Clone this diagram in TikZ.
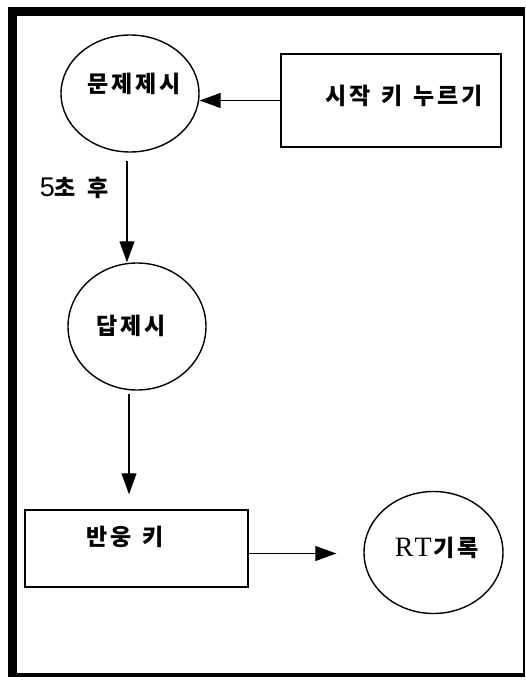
\documentclass[tikz,border=0pt]{standalone}
\usepackage{fontspec}
\setmainfont{Liberation Serif}
\newfontfamily\kr{Noto Sans CJK KR}
\newfontfamily\latsans{Liberation Sans}
\newcommand\kk{\kern3pt}
\newcommand\ksp{\kern11pt}
\usetikzlibrary{arrows.meta,shapes.geometric}
\begin{document}
\begin{tikzpicture}[x=1pt,y=-1pt,
  oval/.style={draw, line width=1.4pt, ellipse, inner sep=0pt},
  boxnode/.style={draw, line width=1.4pt, rectangle, inner sep=0pt},
  lbl/.style={inner sep=0pt, font=\kr\bfseries\fontsize{23}{25}\selectfont},
  arr/.style={line width=1.1pt, -{Triangle[length=21pt,width=15pt]}}]
\useasboundingbox (0,0) rectangle (526,680);
% frame
\fill (8,7) rectangle (17,677);
\fill (8,7) rectangle (525,16);
\fill (523,7) rectangle (525,677);
\fill (8,673) rectangle (525,677);
% shapes
\node[oval, minimum width=138pt, minimum height=117pt] (c1) at (130,93.5) {};
\node[boxnode, minimum width=220pt, minimum height=93pt] (b1) at (391,100.5) {};
\node[oval, minimum width=138pt, minimum height=127pt] (c2) at (137,326.5) {};
\node[boxnode, minimum width=223pt, minimum height=77pt] (b2) at (136.5,548.5) {};
\node[oval, minimum width=139pt, minimum height=122pt] (c3) at (433.5,552.5) {};
% texts
\node[lbl] (t1) at (134,84) {문\kk 제\kk 제\kk 시};
\node[lbl] (t2) at (404,96) {시\kk 작\ksp 키\ksp 누\kk 르\kk 기};
\node[lbl] (t3) at (131,326) {답\kk 제\kk 시};
\node[lbl] (t4) at (125,537) {반\kk 웅\ksp 키};
\node[inner sep=0pt] (t5) at (437,548) {{\fontsize{28}{30}\selectfont R\kern1pt T}\kern2pt{\kr\bfseries\fontsize{23}{25}\selectfont 기\kk 록}};
\node[inner sep=0pt] (t6) at (74,188) {{\latsans\fontsize{27}{29}\selectfont 5}{\kr\bfseries\fontsize{23}{25}\selectfont 초\ksp 후}};
% connectors
\draw[arr] (b1.west) -- (b1.west -| c1.east);
\coordinate (s1) at ([xshift=-3pt,yshift=-8pt]c1.south);
\draw[arr] (s1) -- (s1 |- c2.north);
\coordinate (s2) at ([xshift=-8pt,yshift=-3pt]c2.south);
\draw[arr] (s2) -- ([yshift=15pt]s2 |- b2.north);
\coordinate (s3) at ([yshift=-5pt]b2.east);
\draw[arr] (s3) -- ([xshift=-27pt]s3 -| c3.west);
\end{tikzpicture}
\end{document}
